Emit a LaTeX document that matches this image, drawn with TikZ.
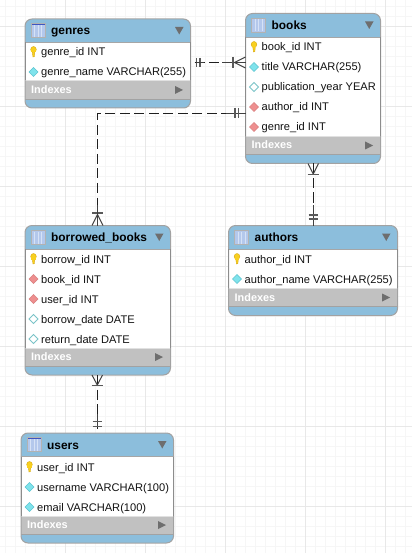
\documentclass[tikz,border=0pt]{standalone}
\usepackage{fontspec}
\setmainfont{Liberation Sans}
\usetikzlibrary{calc}
\definecolor{hdr}{HTML}{8CBEDC}
\definecolor{idx}{HTML}{C1C1C1}
\definecolor{edge}{HTML}{A2A2A2}
\definecolor{gridminor}{HTML}{F6F6F6}
\definecolor{gridmajor}{HTML}{E8E8E8}
\definecolor{tri}{HTML}{6E6E6E}
\definecolor{ink}{HTML}{111111}
\definecolor{pkfill}{HTML}{7FE3EC}
\definecolor{pkdraw}{HTML}{5CC4D0}
\definecolor{nkdraw}{HTML}{7CC4C8}
\definecolor{fkfill}{HTML}{EE8F8F}
\definecolor{fkdraw}{HTML}{D98080}
\definecolor{iconfill}{HTML}{B4C8EC}
\definecolor{iconline}{HTML}{D6E2F6}
\definecolor{icontop}{HTML}{3F55C0}
\definecolor{gold}{HTML}{F8D020}
\definecolor{golddraw}{HTML}{D8A810}
\tikzset{
  tablebox/.style={draw=edge,line width=1pt,rounded corners=7pt,inner sep=0pt,outer sep=0pt},
  titletext/.style={anchor=west,inner sep=0pt,font=\fontsize{11.9}{14}\bfseries\selectfont,text=black,text height=10pt,text depth=3pt},
  rowtext/.style={anchor=west,inner sep=0pt,font=\fontsize{11.1}{14}\selectfont,text=ink,text height=9pt,text depth=3pt},
  idxtext/.style={anchor=west,inner sep=0pt,font=\fontsize{10.9}{14}\bfseries\selectfont,text=white,text height=9pt,text depth=3pt},
  rel/.style={draw=black!88,line width=1pt,dash pattern=on 10pt off 4.5pt},
  marksolid/.style={draw=black!75,line width=1pt},
  barmark/.style={draw=black!65,line width=1.3pt},
  pkey/.style={fill=pkfill,draw=pkdraw,line width=.6pt},
  nkey/.style={fill=white,draw=nkdraw,line width=.8pt},
  fkey/.style={fill=fkfill,draw=fkdraw,line width=.6pt},
}
% name, x1, y1, x2, y2, title
\newcommand{\erdtable}[6]{%
  \begin{scope}
    \clip[rounded corners=7pt] (#2,#3) rectangle (#4,#5);
    \fill[hdr] (#2,#3) rectangle (#4,#5);
    \fill[white] (#2,{#3+23.5}) rectangle (#4,{#5-27.5});
    \fill[idx] (#2,{#5-27.5}) rectangle (#4,{#5-8.5});
    \draw[gridminor!60!idx,line width=.6pt] (#2,{#5-27.2}) -- (#4,{#5-27.2});
    \draw[edge,line width=.7pt] (#2,{#5-8.7}) -- (#4,{#5-8.7});
    \draw[black!35,line width=.7pt] (#2,{#3+23.5}) -- (#4,{#3+23.5});
  \end{scope}
  \pgfmathsetmacro{\tw}{#4-#2}\pgfmathsetmacro{\th}{#5-#3}
  \node[tablebox,minimum width=\tw pt,minimum height=\th pt] (#1) at ({(#2+#4)/2},{(#3+#5)/2}) {};
  \draw[black!45,line width=1pt] (#2,{#3+23.5}) -- (#2,{#5-27.5}) (#4,{#3+23.5}) -- (#4,{#5-27.5});
  % table icon
  \fill[iconfill] ({#2+6},{#3+4.5}) rectangle ({#2+20},{#3+18.5});
  \foreach \k in {3.5,7,10.5} \draw[iconline,line width=.7pt] ({#2+6+\k},{#3+6}) -- ({#2+6+\k},{#3+18});
  \draw[icontop,line width=1.2pt] ({#2+6},{#3+5}) -- ({#2+20},{#3+5});
  \draw[black!30,line width=.5pt] ({#2+6},{#3+4.5}) rectangle ({#2+20},{#3+18.5});
  \node[titletext] (#1-title) at ({#2+26},{#3+12.5}) {#6};
  \fill[tri] ({#4-15.5},{#3+8}) -- ({#4-7},{#3+8}) -- ({#4-11.25},{#3+15.5}) -- cycle;
  \node[idxtext] (#1-indexes) at ({#2+6},{#5-17.5}) {Indexes};
  \fill[tri] ({#4-15.5},{#5-22}) -- ({#4-7.5},{#5-18}) -- ({#4-15.5},{#5-14}) -- cycle;
}
% table, x1, y, text
\newcommand{\pkrow}[4]{%
  \fill[gold,draw=golddraw,line width=.4pt] ({#2+8.5},{#3-2.5}) ellipse (2.8pt and 3pt);
  \fill[gold,draw=golddraw,line width=.4pt] ({#2+7.2},{#3-.5}) -- ({#2+9.8},{#3-.5}) -- ({#2+9.4},{#3+4.5}) -- ({#2+8},{#3+5}) -- cycle;
  \fill[gold] ({#2+6.4},{#3-2.5}) rectangle ({#2+10.6},{#3+.5});
  \node[rowtext] (#1-r#3) at ({#2+16},{#3+1}) {#4};}
\newcommand{\diarow}[5]{%
  \path[#5] ({#2+4},#3) -- ({#2+8.5},{#3-4.5}) -- ({#2+13},#3) -- ({#2+8.5},{#3+4.5}) -- cycle;
  \node[rowtext] (#1-r#3) at ({#2+16},{#3+1}) {#4};}
\begin{document}
\begin{tikzpicture}[x=1pt,y=-1pt]
\useasboundingbox (0,0) rectangle (412,553);
\fill[white] (0,0) rectangle (412,553);
% grid
\foreach \gx in {5.5,15.5,...,405.5} \draw[gridminor,line width=.7pt] (\gx,0) -- (\gx,553);
\foreach \gy in {6,16,...,546} \draw[gridminor,line width=.7pt] (0,\gy) -- (412,\gy);
\foreach \gx in {65.5,145.5,225.5,305.5,385.5} \draw[gridmajor,line width=.8pt] (\gx,0) -- (\gx,553);
\foreach \gy in {26,106,186,266,346,426,506} \draw[gridmajor,line width=.8pt] (0,\gy) -- (412,\gy);

% tables
\erdtable{genres}{25}{19}{190.5}{108}{genres}
\pkrow{genres}{25}{52}{genre\_id INT}
\diarow{genres}{25}{72}{genre\_name VARCHAR(255)}{pkey}

\erdtable{books}{245.5}{13.5}{380.5}{163.5}{books}
\pkrow{books}{245.5}{47}{book\_id INT}
\diarow{books}{245.5}{67}{title VARCHAR(255)}{pkey}
\diarow{books}{245.5}{87}{publication\_year YEAR}{nkey}
\diarow{books}{245.5}{107}{author\_id INT}{fkey}
\diarow{books}{245.5}{127}{genre\_id INT}{fkey}

\erdtable{borrowed}{25}{225.5}{170.5}{375}{borrowed\_books}
\pkrow{borrowed}{25}{259}{borrow\_id INT}
\diarow{borrowed}{25}{279}{book\_id INT}{fkey}
\diarow{borrowed}{25}{299}{user\_id INT}{fkey}
\diarow{borrowed}{25}{319}{borrow\_date DATE}{nkey}
\diarow{borrowed}{25}{339}{return\_date DATE}{nkey}

\erdtable{authors}{228.5}{225.5}{397.5}{315.5}{authors}
\pkrow{authors}{228.5}{259}{author\_id INT}
\diarow{authors}{228.5}{279}{author\_name VARCHAR(255)}{pkey}

\erdtable{users}{21}{433}{173.5}{543}{users}
\pkrow{users}{21}{467}{user\_id INT}
\diarow{users}{21}{487}{username VARCHAR(100)}{pkey}
\diarow{users}{21}{507}{email VARCHAR(100)}{pkey}

% connectors
\coordinate (gb) at (0,62.5);
\coordinate (bend) at (97.5,113.5);
\coordinate (ba) at (313.3,0);
\coordinate (bu) at (97.3,0);

\draw[rel,shorten <=4pt] (genres.east |- gb) -- (books.west |- gb);
\draw[rel] (books.west |- bend) -- (bend) -- (borrowed.north -| bend);
\draw[rel] (books.south -| ba) -- (authors.north -| ba);
\draw[rel] (borrowed.south -| bu) -- (users.north -| bu);

% genres -- books marks
\draw[barmark] (196.5,58) -- (196.5,67) (200,58) -- (200,67);
\draw[marksolid] (196,62.5) -- (204,62.5) (222,62.5) -- (245.5,62.5);
\draw[barmark] (233,57) -- (233,68);
\draw[marksolid] (245.5,57) -- (234.5,62.5) -- (245.5,68);
% books -- borrowed marks
\draw[marksolid] (226,113.5) -- (245.5,113.5);
\draw[barmark] (235,108.5) -- (235,118.5) (238.7,108.5) -- (238.7,118.5);
\draw[barmark] (92,213) -- (103,213);
\draw[marksolid] (97.5,205) -- (97.5,225.5);
\draw[marksolid] (92,225.5) -- (97.5,214.5) -- (103,225.5);
% books -- authors marks
\draw[marksolid] (308,163.5) -- (313.3,174) -- (318.5,163.5);
\draw[barmark] (307.5,174.5) -- (319,174.5);
\draw[marksolid] (313.3,205) -- (313.3,225.5);
\draw[barmark] (308.5,215) -- (318,215) (308.5,219) -- (318,219);
% borrowed -- users marks
\draw[marksolid] (92,375) -- (97.3,385) -- (102.5,375);
\draw[barmark] (91.5,385.8) -- (103,385.8);
\draw[marksolid] (97.3,414) -- (97.3,427);
\draw[barmark] (92.5,421.7) -- (102,421.7) (92.5,426.7) -- (102,426.7);
\end{tikzpicture}
\end{document}
